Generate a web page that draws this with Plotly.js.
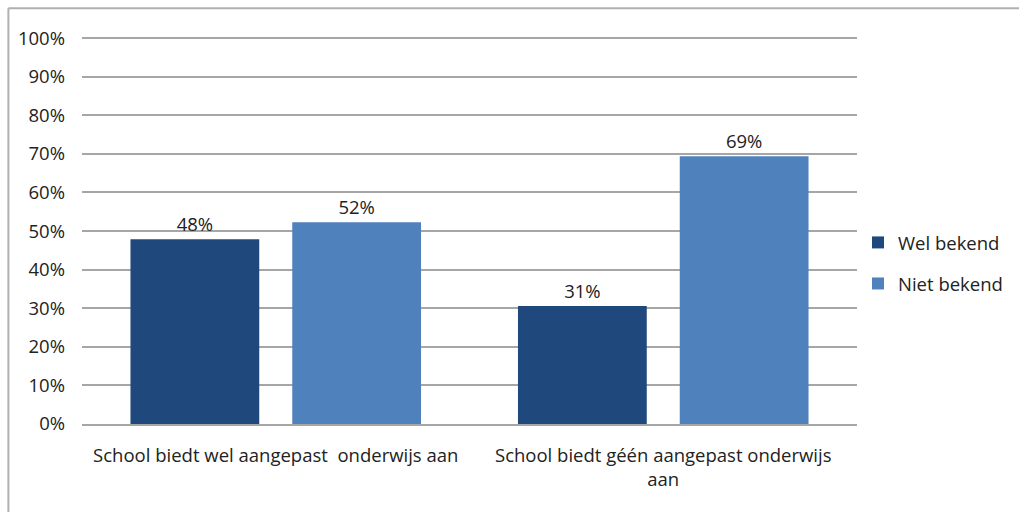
<!DOCTYPE html>
<html>
<head>
<meta charset="utf-8">
<script src="https://cdn.plot.ly/plotly-3.0.1.min.js"></script>
<style>html,body{margin:0;padding:0;background:#fff;}#chart{width:1019px;height:512px;}</style>
</head>
<body>
<div id="chart"></div>
<script>
const categories = ["School biedt wel aangepast  onderwijs aan", "School biedt géén aangepast onderwijs<br>aan"];
const seriesNames = ["Wel bekend", "Niet bekend"];
const welBekend = [47.9, 30.6];
const nietBekend = [52.3, 69.4];
const tickValues = [0, 10, 20, 30, 40, 50, 60, 70, 80, 90, 100];
const tickLabels = tickValues.map(v => v + "%");

const fam = "Open Sans, Noto Sans, sans-serif";
const font = {family: fam, size: 18.5, color: "#222"};

const traces = [
  {type: "bar", name: seriesNames[0], x: categories, y: welBekend, legendgroup: "a",
   marker: {color: "#1F497D"}, text: welBekend.map(v => Math.round(v) + "%"),
   textposition: "outside", cliponaxis: false, textfont: font, hoverinfo: "none"},
  {type: "bar", name: seriesNames[1], x: categories, y: nietBekend, legendgroup: "b",
   marker: {color: "#4F81BD"}, text: nietBekend.map(v => Math.round(v) + "%"),
   textposition: "outside", cliponaxis: false, textfont: font, hoverinfo: "none"}
];

const layout = {
  width: 1019, height: 512,
  margin: {l: 82, r: 161, t: 37, b: 88},
  paper_bgcolor: "#fff", plot_bgcolor: "#fff",
  barmode: "group", bargap: 0.165, bargroupgap: 0.204,
  font: font,
  showlegend: true,
  legend: {x: 1.0, y: 0.415, xanchor: "left", yanchor: "middle", font: {family: fam, size: 18.5, color: "#222"},
           tracegroupgap: 14, traceorder: "grouped", itemwidth: 30},
  xaxis: {type: "category", showline: true, linecolor: "#a6a6a6", linewidth: 2, ticks: "", showgrid: false,
          ticklabelstandoff: 14, tickfont: {family: fam, size: 18.5, color: "#222"}, automargin: false},
  yaxis: {range: [0, 100.3], tickvals: tickValues, ticktext: tickLabels, showgrid: true, gridcolor: "#a6a6a6",
          gridwidth: 2, zeroline: false, showline: false, ticks: "", ticklen: 0, ticklabelstandoff: 16,
          tickfont: {family: fam, size: 18.5, color: "#222"}, automargin: false},
  shapes: [
    {type: "line", xref: "paper", yref: "paper", x0: -0.095, x1: -0.095, y0: 1.074, y1: -0.3, line: {color: "#b0b0b0", width: 2}},
    {type: "line", xref: "paper", yref: "paper", x0: -0.095, x1: 1.3, y0: 1.074, y1: 1.074, line: {color: "#b0b0b0", width: 2}}
  ]
};

Plotly.newPlot("chart", traces, layout, {displayModeBar: false, staticPlot: true});
</script>
</body>
</html>
